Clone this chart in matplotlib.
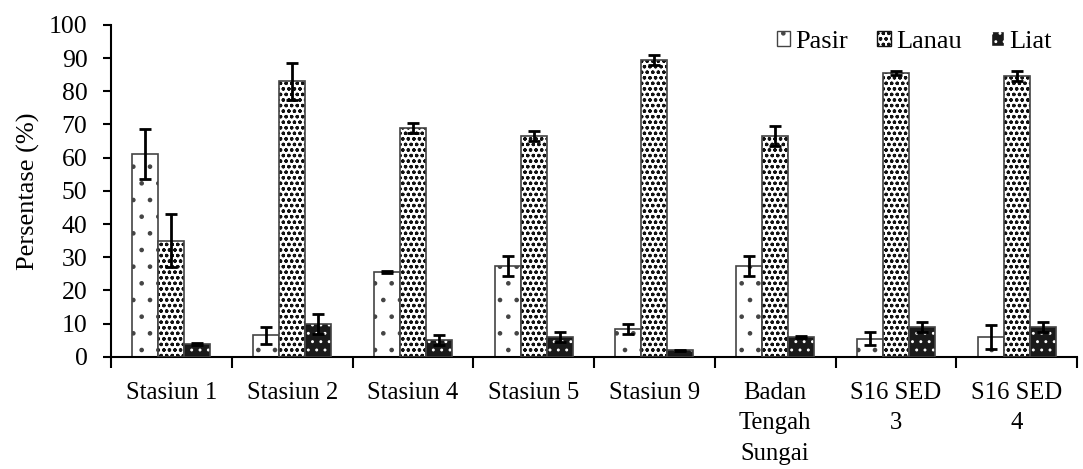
import numpy as np
import matplotlib
matplotlib.use('Agg')
import matplotlib.pyplot as plt
from matplotlib.patches import Patch

matplotlib.rcParams['font.family'] = 'Liberation Serif'
matplotlib.rcParams['font.size'] = 18
matplotlib.rcParams['hatch.linewidth'] = 0.9

stasiun = ['Stasiun 1', 'Stasiun 2', 'Stasiun 4', 'Stasiun 5', 'Stasiun 9',
           'Badan\nTengah\nSungai', 'S16 SED\n3', 'S16 SED\n4']
pasir = [61, 6.5, 25.5, 27.5, 8.5, 27.5, 5.5, 6]
pasir_err = [7.5, 2.5, 0.3, 3, 1.5, 3, 2, 3.5]
lanau = [35, 83, 69, 66.5, 89.5, 66.5, 85.5, 84.5]
lanau_err = [8, 5.5, 1.5, 1.5, 1.5, 3, 0.5, 1.5]
liat = [4, 10, 5, 6, 2, 6, 9, 9]
liat_err = [0.3, 3, 1.5, 1.5, 0.2, 0.2, 1.5, 1.5]

fig = plt.figure(figsize=(10.83, 4.69), dpi=100)
ax = fig.add_axes([0.1025, 0.239, 0.892, 0.708])

x = np.arange(len(stasiun))
w = 0.215
ek = dict(ecolor='black', elinewidth=2, capsize=4.5, capthick=2)

ax.bar(x - w, pasir, w, color='white', edgecolor='#444444', hatch='.', linewidth=1.2, zorder=2)
ax.errorbar(x - w, pasir, yerr=pasir_err, fmt='none', zorder=4, **ek)

ax.bar(x, lanau, w, color='white', edgecolor='#111111', hatch='ooo', linewidth=0, zorder=2)
ax.bar(x, lanau, w, color='none', edgecolor='#444444', linewidth=1.2, zorder=3)
ax.errorbar(x, lanau, yerr=lanau_err, fmt='none', zorder=4, **ek)

ax.bar(x + w, liat, w, color='#1a1a1a', edgecolor='white', hatch='..', linewidth=0, zorder=2)
ax.bar(x + w, liat, w, color='none', edgecolor='#444444', linewidth=1.2, zorder=3)
ax.errorbar(x + w, liat, yerr=liat_err, fmt='none', zorder=4, **ek)

ax.set_xlim(-0.5, len(stasiun) - 0.5)
ax.set_ylim(0, 100)
ax.set_yticks(range(0, 101, 10))
ax.set_ylabel('Persentase (%)', fontsize=19, labelpad=6)
ax.set_xticks(x)
ax.set_xticklabels(stasiun, fontsize=17.8, va='top', linespacing=1.5)
ax.tick_params(axis='x', which='major', length=0, pad=18)
ax.set_xticks(np.arange(-0.5, len(stasiun), 1), minor=True)
ax.tick_params(axis='x', which='minor', length=8, width=1.5, direction='out')
ax.tick_params(axis='y', length=6, width=1.5, labelsize=18.5, pad=11)
for s in ['top', 'right']:
    ax.spines[s].set_visible(False)
for s in ['left', 'bottom']:
    ax.spines[s].set_linewidth(1.5)

handles = [Patch(facecolor='white', edgecolor='#444444', hatch='.'),
           Patch(facecolor='white', edgecolor='#111111', hatch='ooo'),
           Patch(facecolor='#1a1a1a', edgecolor='white', hatch='..')]
ax.legend(handles, ['Pasir', 'Lanau', 'Liat'], ncol=3, frameon=False,
          loc='upper right', bbox_to_anchor=(0.99, 1.03), handlelength=0.5,
          handleheight=0.5, handletextpad=0.2, columnspacing=1.1, fontsize=19,
          borderaxespad=0.2)

plt.savefig('out.png', dpi=100)
